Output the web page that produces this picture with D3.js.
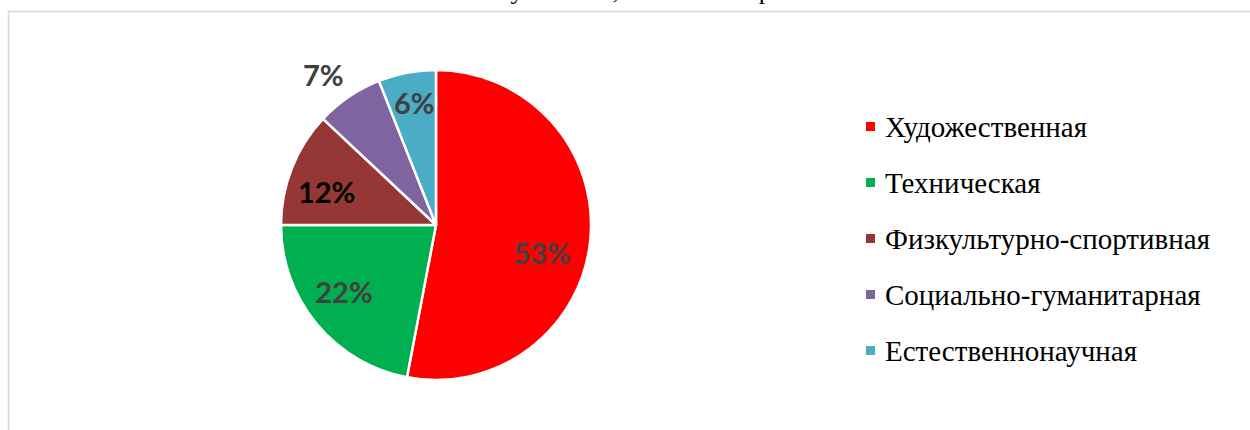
<!DOCTYPE html>
<html lang="ru">

<head>
	<meta charset="UTF-8">
	<title>Направленности</title>

	<style>
		body { margin: 0; background: #fff; }
	</style>

	<script src="https://d3js.org/d3.v7.min.js"></script>

</head>

<body>
	<script type="text/javascript">
		const width = 1250;
		const height = 430;

		// data
		const categories = ["Художественная", "Техническая", "Физкультурно-спортивная", "Социально-гуманитарная", "Естественнонаучная"];
		const shares = [53, 22, 12, 7, 6];
		const sliceColors = ["#ff0000", "#00b050", "#953735", "#8064a2", "#4bacc6"];
		const titleText = "Охват учеников, в т.ч. по направлениям";

		const svg = d3.select("body").append("svg")
			.attr("width", width)
			.attr("height", height);

		// chart area frame (only top and left edge fall inside the shot)
		svg.append("rect")
			.attr("x", 8.5)
			.attr("y", 11.5)
			.attr("width", 1300)
			.attr("height", 500)
			.attr("fill", "none")
			.attr("stroke", "#d6d6d6")
			.attr("stroke-width", 1.5);

		// title, mostly above the visible area (as in the reference)
		svg.append("text")
			.attr("x", 438)
			.attr("y", -1)
			.attr("font-family", "'Liberation Serif', 'Times New Roman', serif")
			.attr("font-size", 26)
			.attr("fill", "#000")
			.text(titleText);

		const cx = 436, cy = 225, radius = 155;

		const pie = d3.pie().sort(null).value(d => d);
		const arcs = pie(shares);

		const arc = d3.arc().innerRadius(0).outerRadius(radius);

		const g = svg.append("g").attr("transform", `translate(${cx},${cy})`);

		g.selectAll(".slice")
			.data(arcs)
			.join("path")
			.classed("slice", true)
			.attr("d", arc)
			.attr("fill", (d, i) => sliceColors[i])
			.attr("stroke", "#fff")
			.attr("stroke-width", 2.5)
			.attr("stroke-linejoin", "round");

		// label placement: radius from centre and small angle nudge, like excel best fit
		const labelR = [110, 114, 114, 187, 123];
		const labelNudge = [0.17, 0.06, -0.09, -0.05, 0.01];
		const labelFill = ["#404040", "#404040", "#000000", "#404040", "#404040"];

		g.selectAll(".pct")
			.data(arcs)
			.join("text")
			.classed("pct", true)
			.attr("x", (d, i) => {
				const a = (d.startAngle + d.endAngle) / 2 + labelNudge[i];
				return Math.sin(a) * labelR[i];
			})
			.attr("y", (d, i) => {
				const a = (d.startAngle + d.endAngle) / 2 + labelNudge[i];
				return -Math.cos(a) * labelR[i];
			})
			.attr("text-anchor", "middle")
			.attr("dy", "0.36em")
			.attr("font-family", "Lato, 'Open Sans', sans-serif")
			.attr("font-weight", "bold")
			.attr("font-size", 29)
			.attr("fill", (d, i) => labelFill[i])
			.text(d => d.data + "%");

		// legend
		const legendY = d3.scalePoint()
			.domain(categories)
			.range([127, 351]);

		const legend = svg.selectAll(".legend")
			.data(categories)
			.join("g")
			.classed("legend", true)
			.attr("transform", d => `translate(866,${legendY(d)})`);

		legend.append("rect")
			.attr("x", 0)
			.attr("y", -5)
			.attr("width", 9)
			.attr("height", 9)
			.attr("fill", (d, i) => sliceColors[i]);

		legend.append("text")
			.attr("x", 19)
			.attr("dy", "0.35em")
			.attr("font-family", "'Liberation Serif', 'Times New Roman', serif")
			.attr("font-size", 29)
			.attr("fill", "#000")
			.text(d => d);
	</script>

</body>

</html>
